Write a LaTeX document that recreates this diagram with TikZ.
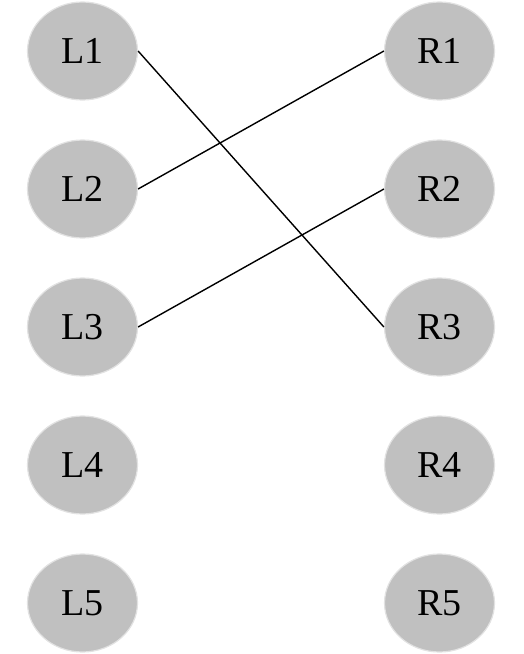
\documentclass[tikz,border=0pt]{standalone}
\usepackage{fontspec}
\setmainfont{Liberation Serif}
\usetikzlibrary{shapes.geometric}
\definecolor{nodefill}{HTML}{C0C0C0}
\definecolor{nodeedge}{HTML}{E2E2E2}
\tikzset{
  vtx/.style={ellipse, fill=nodefill, draw=nodeedge, line width=1.2pt,
    minimum width=110pt, minimum height=98pt, inner sep=0pt,
    font=\fontsize{38}{42}\selectfont},
  link/.style={draw=black, line width=1.4pt}
}
\begin{document}
\begin{tikzpicture}[x=1pt,y=-1pt]
\useasboundingbox (0,0) rectangle (523,654);
\foreach \i/\y in {1/51,2/189,3/327,4/465,5/603}{
  \node[vtx] (L\i) at (82.5,\y) {L\i};
  \node[vtx] (R\i) at (439.5,\y) {R\i};
}
\draw[link] (L1.east) -- (R3.west);
\draw[link] (L2.east) -- (R1.west);
\draw[link] (L3.east) -- (R2.west);
\end{tikzpicture}
\end{document}
